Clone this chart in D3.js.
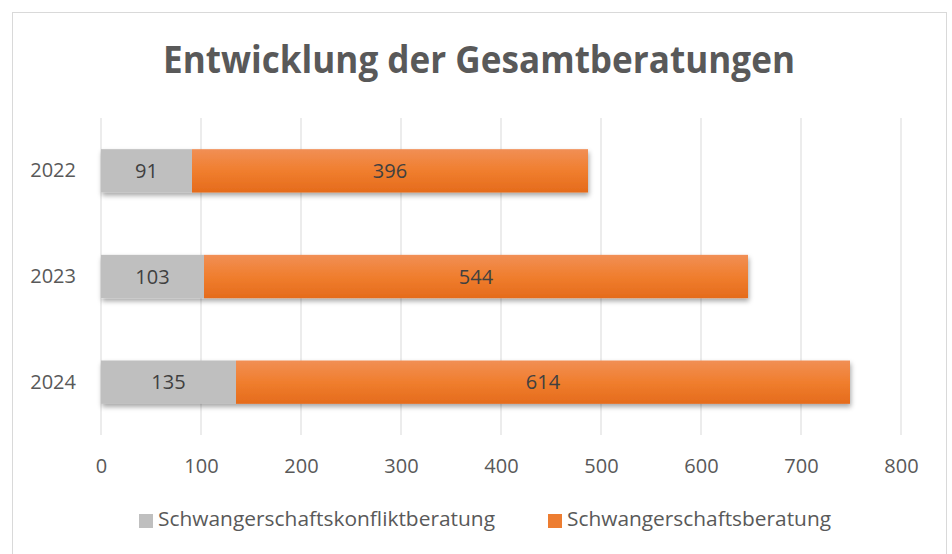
<!DOCTYPE html>
<html>
<head>
<meta charset="utf-8">
<script src="https://cdn.jsdelivr.net/npm/d3@7"></script>
<style>
  body { margin: 0; background: #fff; }
  text { font-family: "Open Sans", sans-serif; }
</style>
</head>
<body>
<div id="canvas"></div>
<script>
const years = ["2022", "2023", "2024"];
const konflikt = [91, 103, 135];
const beratung = [396, 544, 614];
const seriesNames = ["Schwangerschaftskonfliktberatung", "Schwangerschaftsberatung"];
const xTicks = [0, 100, 200, 300, 400, 500, 600, 700, 800];

const width = 952;
const height = 554;
const margin = { top: 118, left: 101, bottom: 119, right: 51 };
const iwidth = width - margin.left - margin.right;
const iheight = height - margin.top - margin.bottom;
const font = "'Open Sans', sans-serif";

const svg = d3.select("#canvas").append("svg")
  .attr("width", width)
  .attr("height", height);

// rahmen
svg.append("rect")
  .attr("x", 12.5).attr("y", 12.5)
  .attr("width", 934).attr("height", 560)
  .attr("fill", "none").attr("stroke", "#d9d9d9");

const defs = svg.append("defs");
const grad = defs.append("linearGradient").attr("id", "orange")
  .attr("x1", 0).attr("y1", 0).attr("x2", 0).attr("y2", 1);
grad.append("stop").attr("offset", "0%").attr("stop-color", "#f18f55");
grad.append("stop").attr("offset", "50%").attr("stop-color", "#f07e2e");
grad.append("stop").attr("offset", "100%").attr("stop-color", "#e56b1c");
const shadow = defs.append("filter").attr("id", "shadow")
  .attr("x", "-5%").attr("y", "-20%").attr("width", "110%").attr("height", "160%");
shadow.append("feDropShadow").attr("dx", 1).attr("dy", 3).attr("stdDeviation", 2.5)
  .attr("flood-color", "#000").attr("flood-opacity", 0.35);

svg.append("text")
  .attr("x", 479).attr("y", 73)
  .attr("text-anchor", "middle")
  .attr("font-size", 37).attr("font-weight", "bold")
  .attr("fill", "#595959")
  .attr("textLength", 632).attr("lengthAdjust", "spacingAndGlyphs")
  .text("Entwicklung der Gesamtberatungen");

const g = svg.append("g").attr("transform", `translate(${margin.left},${margin.top})`);

const x = d3.scaleLinear().domain([0, 800]).range([0, iwidth]);
const y = d3.scaleBand().domain(years).range([0, iheight])
  .paddingInner(0.59).paddingOuter(0.295);

// gitterlinien
g.selectAll("line.grid").data(xTicks).enter().append("line")
  .attr("class", "grid")
  .attr("x1", d => x(d)).attr("x2", d => x(d))
  .attr("y1", 0).attr("y2", iheight)
  .attr("stroke", "#d9d9d9").attr("stroke-width", 1);

const rows = years.map((yr, i) => ({ yr, a: konflikt[i], b: beratung[i] }));

const bars = g.selectAll("g.row").data(rows).enter().append("g")
  .attr("class", "row")
  .attr("filter", "url(#shadow)");

bars.append("rect")
  .attr("x", x(0))
  .attr("y", d => y(d.yr))
  .attr("width", d => x(d.a) - x(0))
  .attr("height", y.bandwidth())
  .attr("fill", "#bfbfbf");

bars.append("rect")
  .attr("x", d => x(d.a))
  .attr("y", d => y(d.yr))
  .attr("width", d => x(d.a + d.b) - x(d.a))
  .attr("height", y.bandwidth())
  .attr("fill", "url(#orange)");

const labels = g.selectAll("g.lab").data(rows).enter().append("g").attr("class", "lab");
labels.append("text")
  .attr("x", d => x(d.a / 2))
  .attr("y", d => y(d.yr) + y.bandwidth() / 2)
  .attr("dy", "0.36em").attr("text-anchor", "middle")
  .attr("font-size", 20).attr("fill", "#404040")
  .text(d => d.a);
labels.append("text")
  .attr("x", d => x(d.a + d.b / 2))
  .attr("y", d => y(d.yr) + y.bandwidth() / 2)
  .attr("dy", "0.36em").attr("text-anchor", "middle")
  .attr("font-size", 20).attr("fill", "#404040")
  .text(d => d.b);

// achsen
const xAxis = g.append("g")
  .attr("transform", `translate(0,${iheight})`)
  .call(d3.axisBottom(x).tickValues(xTicks).tickSize(0).tickPadding(24));
xAxis.select(".domain").remove();
xAxis.selectAll("text").attr("font-size", 20).attr("fill", "#595959")
  .style("font-family", font);

const yAxis = g.append("g")
  .call(d3.axisLeft(y).tickSize(0).tickPadding(25));
yAxis.select(".domain").remove();
yAxis.selectAll("text").attr("font-size", 20).attr("fill", "#595959")
  .style("font-family", font);

// legende
const legend = svg.append("g").attr("transform", "translate(139,521)");
const legItems = [
  { name: seriesNames[0], color: "#bfbfbf", x: 0, len: 337 },
  { name: seriesNames[1], color: "#ed7d31", x: 409, len: 264 }
];
const li = legend.selectAll("g").data(legItems).enter().append("g")
  .attr("transform", d => `translate(${d.x},0)`);
li.append("rect").attr("x", 0).attr("y", -7).attr("width", 14).attr("height", 14)
  .attr("fill", d => d.color);
li.append("text").attr("x", 19).attr("y", -2).attr("dy", "0.36em")
  .attr("font-size", 20).attr("fill", "#595959")
  .attr("textLength", d => d.len).attr("lengthAdjust", "spacingAndGlyphs")
  .text(d => d.name);
</script>
</body>
</html>
